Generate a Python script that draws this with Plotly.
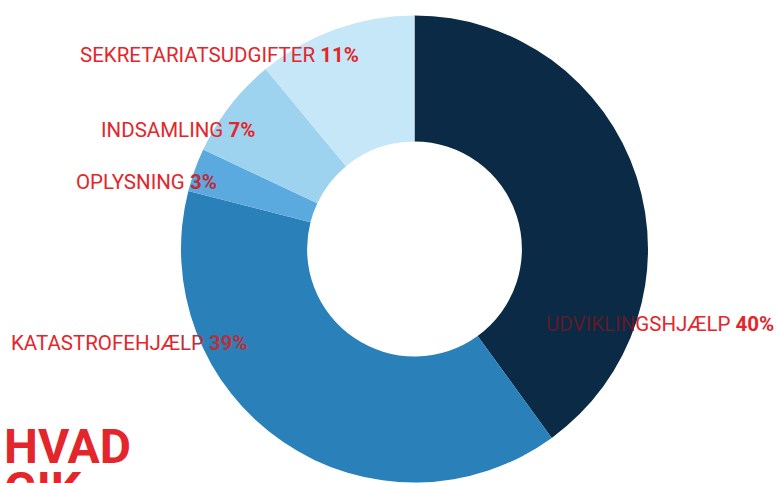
import plotly.graph_objects as go

W, H = 777, 483

categories = ["UDVIKLINGSHJÆLP", "KATASTROFEHJÆLP", "OPLYSNING", "INDSAMLING", "SEKRETARIATSUDGIFTER"]
values = [40, 39, 3, 7, 11]
colors = ["#0b2a45", "#2a80b8", "#5aaae0", "#9ed3f0", "#c6e7f8"]

RED = "#e3262b"
FONT = "Roboto, sans-serif"

fig = go.Figure()
fig.add_trace(go.Pie(
    labels=categories, values=values, sort=False, direction="clockwise",
    rotation=0, hole=0.46, textinfo="none", hoverinfo="label+percent",
    marker=dict(colors=colors, line=dict(width=0)),
    domain=dict(x=[181 / W, 648 / W], y=[0, 1 - 15 / H]),
    showlegend=False,
))

# label positions (pixel centres)
label_pos = {
    "UDVIKLINGSHJÆLP": (660, 324),
    "KATASTROFEHJÆLP": (129, 343),
    "OPLYSNING": (146, 182),
    "INDSAMLING": (177.5, 130),
    "SEKRETARIATSUDGIFTER": (219, 55),
}

def px(x, y):
    return x / W, 1 - y / H

for cat, val in zip(categories, values):
    x, y = label_pos[cat]
    if cat == "UDVIKLINGSHJÆLP":
        txt = f"<span style='color:#5e1b2a'>{cat[:8]}</span>{cat[8:]} <b>{val}%</b>"
    elif cat == "KATASTROFEHJÆLP":
        txt = f"{cat[:-2]}<span style='color:#b8303c'>{cat[-2:]} <b>{val}%</b></span>"
    elif cat == "OPLYSNING":
        txt = f"{cat} <span style='color:#c02a38'><b>{val}%</b></span>"
    else:
        txt = f"{cat} <b>{val}%</b>"
    ax, ay = px(x, y)
    fig.add_annotation(x=ax, y=ay, xref="paper", yref="paper", text=txt,
                       showarrow=False, xanchor="center", yanchor="middle",
                       font=dict(family=FONT, size=20.5, color=RED))

title_lines = ["HVAD", "GIK"]
for i, t in enumerate(title_lines):
    ax, ay = px(2, 446 + i * 43)
    fig.add_annotation(x=ax, y=ay, xref="paper", yref="paper", text=f"<b>{t}</b>",
                       showarrow=False, xanchor="left", yanchor="middle",
                       font=dict(family=FONT, size=48, color=RED))

fig.update_layout(
    width=W, height=H,
    margin=dict(l=0, r=0, t=0, b=0),
    paper_bgcolor="white", plot_bgcolor="white",
)

fig.write_html("out.html", config={"displayModeBar": False},
               post_script="document.body.style.margin='0';document.body.style.overflow='hidden';")
